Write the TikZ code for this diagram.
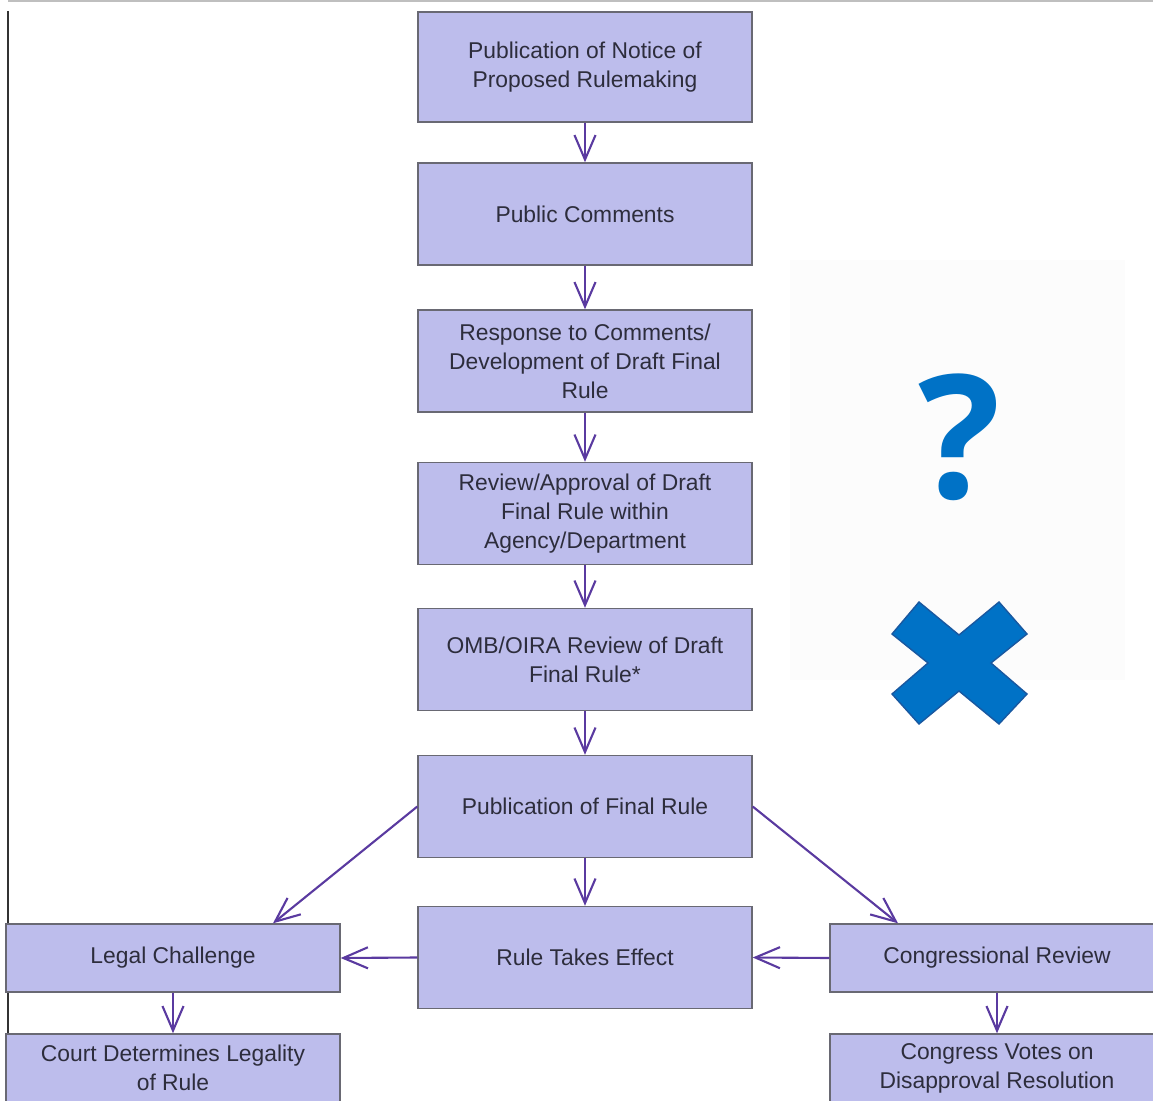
\documentclass[tikz,border=0pt]{standalone}
\usepackage{fontspec}
\newfontfamily\boxfont{Liberation Sans}
\newfontfamily\markfont{Open Sans}
\usetikzlibrary{arrows.meta}
\definecolor{boxfill}{RGB}{189,189,236}
\definecolor{boxline}{RGB}{105,105,115}
\definecolor{flowcol}{RGB}{90,58,160}
\definecolor{boxtext}{RGB}{45,45,60}
\definecolor{markblue}{RGB}{0,114,198}
\definecolor{markedge}{RGB}{25,88,160}
\begin{document}
\begin{tikzpicture}[x=0.02cm,y=-0.02cm,
	box/.style={draw=boxline,line width=0.8pt,fill=boxfill,text=boxtext,align=center,inner sep=0pt,
		minimum width=6.68cm,minimum height=2.04cm,font=\boxfont\fontsize{13}{16.5}\selectfont},
	tallbox/.style={box,minimum height=2.2cm},
	flatbox/.style={box,minimum height=1.36cm},
	flow/.style={draw=flowcol,line width=1.2pt,-{Straight Barb[length=14pt,width=12pt,line width=1.2pt]}}]
			\useasboundingbox (0,0) rectangle (1153,1101);
			% frame lines and faint panel
			\fill[black!1] (790,260) rectangle (1125,680);
			\draw[black!25,line width=0.8pt] (8,1) -- (1153,1);
			\draw[black!80,line width=1.1pt] (8,11) -- (8,1101);
			% main chain
			\node[tallbox](notice) at (585,67){Publication of Notice of\\Proposed Rulemaking};
			\node[box](comments) at (585,214){Public Comments};
			\node[box](response) at (585,361){Response to Comments/\\Development of Draft Final\\Rule};
			\node[box](review) at (585,513.5){Review/Approval of Draft\\Final Rule within\\Agency/Department};
			\node[box](omb) at (585,659.5){OMB/OIRA Review of Draft\\Final Rule*};
			\node[box](final) at (585,806.5){Publication of Final Rule};
			\node[box](effect) at (585,957.5){Rule Takes Effect};
			% side branches
			\node[flatbox](legal) at (173,958){Legal Challenge};
			\node[flatbox](court) at (173,1068){Court Determines Legality\\of Rule};
			\node[flatbox](congress) at (997,958){Congressional Review};
			\node[flatbox](votes) at (997,1068){Congress Votes on\\Disapproval Resolution};
			\draw[flow](notice)--(comments);
			\draw[flow](comments)--(response);
			\draw[flow](response)--(review);
			\draw[flow](review)--(omb);
			\draw[flow](omb)--(final);
			\draw[flow](final)--(effect);
			\draw[flow](final.west)--([xshift=2cm]legal.north);
			\draw[flow](final.east)--([xshift=-1.98cm]congress.north);
			\draw[flow](effect.west)--(legal.east);
			\draw[flow](congress.west)--(effect.east);
			\draw[flow](legal)--(court);
			\draw[flow](congress)--(votes);
			% question mark and cross
			\node[text=markblue,inner sep=0pt,font=\markfont\bfseries\fontsize{98}{98}\selectfont](qmark) at (960,437){?};
			\filldraw[fill=markblue,draw=markedge,line width=0.8pt]
				(919,602) -- (959,635) -- (999,602) -- (1027,634) -- (991,663) -- (1027,694) --
				(999,724) -- (959,691) -- (919,724) -- (892,694) -- (928,663) -- (892,634) -- cycle;
		\end{tikzpicture}
\end{document}
